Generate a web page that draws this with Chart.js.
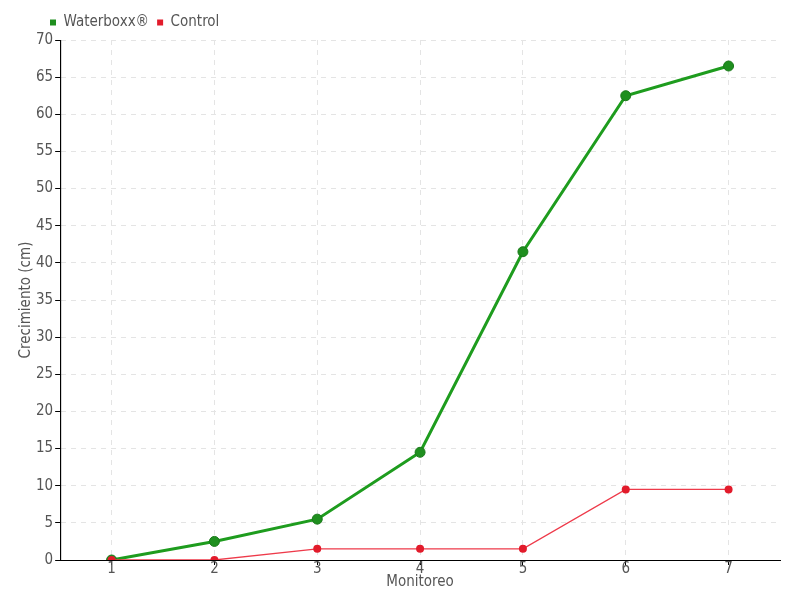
<!DOCTYPE html>
<html><head><meta charset="utf-8">
<script src="https://cdn.jsdelivr.net/npm/chart.js@4/dist/chart.umd.min.js"></script>
<style>html,body{margin:0;padding:0;background:#fff}#wrap{width:800px;height:600px}</style>
</head><body><div id="wrap"><canvas id="c" width="800" height="600"></canvas></div>
<script>
const categories = ["1","2","3","4","5","6","7"];
const waterboxx = [0, 2.5, 5.5, 14.5, 41.5, 62.5, 66.5];
const control = [0, 0, 1.5, 1.5, 1.5, 9.5, 9.5];
const seriesNames = ["Waterboxx®", "Control"];
const FONT = "'Liberation Sans Narrow', 'DejaVu Sans Condensed', sans-serif";
const TXT = "#555";
new Chart(document.getElementById('c'), {
  type: 'line',
  data: {
    labels: categories,
    datasets: [
      {label: seriesNames[0], data: waterboxx, borderColor: '#1e9c1e', backgroundColor: '#1f8f1f', order: 1,
       pointBorderColor: '#1a7a1a', pointBackgroundColor: '#1f8f1f', borderWidth: 3, pointRadius: 5, pointBorderWidth: 1, tension: 0},
      {label: seriesNames[1], data: control, borderColor: '#ee3a4a', backgroundColor: '#e21b2b', order: 0,
       pointBorderColor: '#e21b2b', pointBackgroundColor: '#e21b2b', borderWidth: 1.3, pointRadius: 4, pointBorderWidth: 0, tension: 0}
    ]
  },
  options: {
    responsive: false, animation: false,
    layout: {padding: {left: 17, right: 20, top: 7, bottom: 9}},
    plugins: {
      legend: {position: 'top', align: 'start',
        labels: {boxWidth: 6, boxHeight: 6, padding: 8, color: TXT, font: {family: FONT, size: 15},
          generateLabels: (chart) => chart.data.datasets.map((d, i) => ({text: d.label, fillStyle: d.pointBackgroundColor, strokeStyle: d.pointBackgroundColor, lineWidth: 0, datasetIndex: i, fontColor: TXT}))}},
      tooltip: {enabled: false}
    },
    scales: {
      x: {offset: true,
        grid: {color: '#e4e4e4', tickColor: '#000', drawTicks: true, tickLength: 5, offset: false},
        border: {color: '#000', width: 1, dash: [5,5]},
        ticks: {color: TXT, font: {family: FONT, size: 15}, padding: -5},
        title: {display: true, text: 'Monitoreo', color: TXT, font: {family: FONT, size: 15}, padding: {top: 0, bottom: 0}}},
      y: {min: 0, max: 70,
        grid: {color: '#e4e4e4', tickColor: '#000', tickLength: 5},
        border: {color: '#000', width: 1, dash: [5,5]},
        ticks: {stepSize: 5, color: TXT, font: {family: FONT, size: 15}, padding: 2},
        title: {display: true, text: 'Crecimiento (cm)', color: TXT, font: {family: FONT, size: 15}, padding: {top: 0, bottom: -1}}}
    }
  },
  plugins: [{
    id: 'legendShift',
    afterLayout(chart) { if (chart.legend) chart.legend.left = 42; }
  }, {
    id: 'solidAxes',
    afterDraw(chart) {
      const {ctx, chartArea: a} = chart;
      ctx.save(); ctx.strokeStyle = '#000'; ctx.lineWidth = 1; ctx.setLineDash([]);
      ctx.beginPath(); ctx.moveTo(a.left + 0.5, a.top); ctx.lineTo(a.left + 0.5, a.bottom);
      ctx.moveTo(a.left, a.bottom + 0.5); ctx.lineTo(a.right, a.bottom + 0.5); ctx.stroke(); ctx.restore();
    }
  }]
});
</script></body></html>
